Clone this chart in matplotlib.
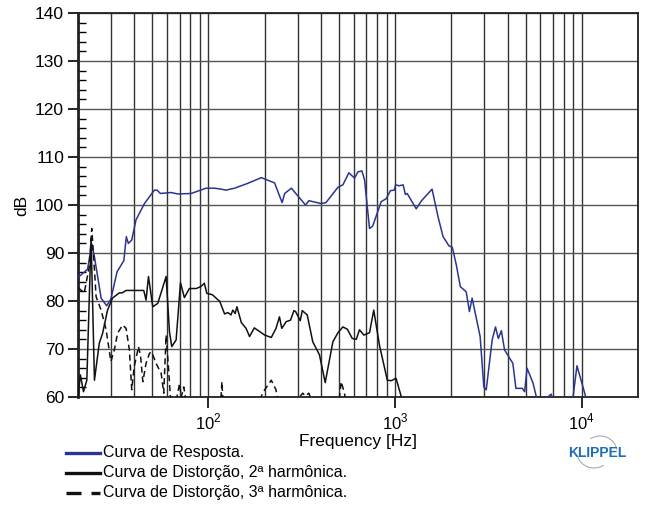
import numpy as np
import matplotlib
matplotlib.use('Agg')
import matplotlib.pyplot as plt
from matplotlib.lines import Line2D
from matplotlib.patches import Arc
from matplotlib.ticker import LogLocator, MultipleLocator, FixedLocator, NullFormatter

plt.rcParams['font.family'] = ['Liberation Sans', 'DejaVu Sans']
plt.rcParams['mathtext.fontset'] = 'custom'
plt.rcParams['mathtext.rm'] = 'Liberation Sans'

# response curve (blue)
resp_f = [20, 22.5, 23.7, 24.5, 26.6, 28.5, 30, 32.4, 35.2, 36.3, 37.2, 38.8, 40.9, 45.4,
          51.3, 53, 55.3, 63, 68.5, 80.8, 97, 108, 117, 124, 138, 162, 192, 226, 248, 256,
          278, 301, 331, 345, 401, 426, 494, 525, 565, 606, 632, 664, 686, 729, 758, 842,
          895, 944, 990, 1006, 1052, 1104, 1134, 1160, 1297, 1385, 1577, 1696, 1806, 1942,
          2024, 2127, 2234, 2403, 2500, 2585, 2853, 2986, 3076, 3310, 3448, 3570, 3707,
          3858, 4272, 4436, 4800, 4940, 5090, 5480, 5750, 6200, 6570, 6850, 7000, 8000,
          8940, 9420, 10400, 10700]
resp_db = [84.9, 86.6, 91.9, 89.2, 80.6, 79.0, 80.4, 86.1, 88.4, 93.4, 92.0, 92.7, 96.9, 100.3,
           103.1, 103.1, 102.4, 102.6, 102.3, 102.4, 103.5, 103.5, 103.3, 103.1, 103.5, 104.5,
           105.7, 104.6, 100.5, 102.4, 103.5, 101.9, 100.0, 100.9, 100.3, 100.5, 103.7, 104.2,
           106.7, 105.6, 106.9, 107.1, 105.2, 95.1, 95.6, 100.7, 101.3, 103.0, 103.1, 104.2,
           104.0, 104.2, 102.2, 102.4, 99.2, 100.9, 103.3, 97.6, 93.4, 91.5, 91.2, 87.5, 83.0,
           81.9, 77.8, 80.6, 72.6, 62.1, 61.5, 71.9, 74.6, 72.2, 73.8, 69.8, 67.0, 61.8, 61.8,
           61.1, 66.0, 62.9, 59.5, 57.0, 60.0, 60.6, 59.5, 56.0, 59.5, 66.5, 60.6, 58.5]

# 2nd harmonic distortion (solid black)
h2_f = [20, 20.6, 21.4, 22.3, 23.5, 24.5, 26, 27.1, 28.8, 30.6, 33.3, 34.5, 36.2, 40, 45,
        46.3, 47.7, 50.3, 53.5, 59.3, 61.8, 63.6, 67.1, 70.8, 74.3, 79, 86, 91, 95, 98, 105,
        115, 122, 127, 132, 135, 139, 142, 150, 159, 166, 176, 200, 217, 230, 240, 247, 261,
        275, 287, 293, 310, 318, 338, 362, 393, 422, 464, 494, 525, 555, 589, 619, 644, 680,
        729, 768, 824, 908, 954, 1011, 1078, 1110]
h2_db = [60.1, 64.6, 61.1, 63.5, 93.1, 63.5, 71.2, 73.3, 78.1, 80.6, 81.7, 81.7, 82.2, 82.2,
         82.2, 80.2, 85.1, 78.8, 79.5, 85.1, 73.6, 70.5, 71.9, 83.8, 80.7, 82.6, 82.6, 83.0,
         83.7, 81.6, 81.3, 79.9, 77.3, 77.6, 77.1, 78.1, 77.4, 78.8, 75.5, 74.3, 72.6, 74.4,
         72.9, 72.4, 74.3, 76.7, 74.3, 75.7, 76.0, 78.0, 77.8, 75.9, 78.0, 77.1, 71.5, 68.8,
         63.0, 71.5, 73.4, 74.6, 74.1, 72.2, 72.0, 74.0, 72.9, 73.4, 78.1, 70.8, 63.5, 63.4,
         63.9, 60.1, 58.0]

# 3rd harmonic distortion (dashed black)
h3_f = [20, 21.6, 23, 23.7, 24.5, 25, 26.6, 28.3, 30, 31.3, 32.6, 34.7, 36.2, 37.7, 38.8, 40,
        42.2, 43.3, 44.5, 46.3, 48.3, 49.6, 52.4, 55.8, 57.6, 59.3, 61.2, 63, 67, 70, 71.5,
        73.7, 76, 116, 118, 120, 185, 200, 217, 230, 236, 300, 320, 330, 345, 355, 500, 514,
        535, 545]
h3_db = [82.8, 81.7, 87.2, 95.1, 86.5, 80.9, 78.1, 74.0, 67.4, 69.8, 73.3, 75.0, 74.3, 69.8,
         61.5, 66.3, 70.5, 68.4, 63.2, 67.0, 69.1, 69.4, 67.0, 64.9, 60.8, 72.9, 65.6, 58.0,
         59.0, 62.8, 60.0, 62.1, 59.0, 58.0, 63.2, 58.0, 59.0, 61.5, 63.5, 61.5, 59.0, 59.5,
         60.8, 60.2, 60.8, 59.5, 59.0, 63.2, 60.8, 59.0]

legend_labels = ['Curva de Resposta.',
                 'Curva de Distorção, 2ª harmônica.',
                 'Curva de Distorção, 3ª harmônica.']

blue = '#2b3590'
W, H = 645, 505
fig = plt.figure(figsize=(W / 100, H / 100), dpi=100)
ax = fig.add_axes([78 / W, (H - 397) / H, (638 - 78) / W, (397 - 13) / H])

ax.plot(resp_f, resp_db, color=blue, lw=1.1, zorder=3)
ax.plot(h2_f, h2_db, color='#111111', lw=1.1, zorder=3)
ax.plot(h3_f, h3_db, color='#111111', lw=1.1, dashes=(4, 2.5), zorder=3)

ax.set_xscale('log')
ax.set_xlim(20, 20000)
ax.set_ylim(60, 140)

ax.xaxis.set_major_locator(FixedLocator([100, 1000, 10000]))
ax.set_xticklabels([r'$10^{2}$', r'$10^{3}$', r'$10^{4}$'])
ax.xaxis.set_minor_locator(LogLocator(base=10, subs=np.arange(2, 10)))
ax.xaxis.set_minor_formatter(NullFormatter())
ax.yaxis.set_major_locator(MultipleLocator(10))
ax.yaxis.set_minor_locator(MultipleLocator(2))

ax.grid(True, which='major', axis='y', color='#555555', lw=1.0)
ax.grid(True, which='both', axis='x', color='#333333', lw=1.0)
ax.set_axisbelow(True)

ax.tick_params(axis='x', which='major', direction='out', length=8, width=1.2,
               labelsize=12, pad=3)
ax.tick_params(axis='x', which='minor', length=0)
ax.tick_params(axis='y', which='major', direction='out', length=7, width=1.2,
               labelsize=12.5, pad=3)
ax.tick_params(axis='y', which='minor', direction='in', length=6, width=1.0)

for side, sp in ax.spines.items():
    sp.set_color('#222222')
    sp.set_linewidth(1.3)
ax.spines['left'].set_linewidth(2.0)

ax.set_xlabel('Frequency [Hz]', fontsize=12.5, labelpad=1)
ax.set_ylabel('dB', fontsize=12.5, labelpad=4)

# legend drawn below the axes
rows = [453, 473, 493]
styles = [dict(color=blue), dict(color='#111111'), dict(color='#111111', dashes=(4.5, 3))]
for y, lab, st in zip(rows, legend_labels, styles):
    fig.add_artist(Line2D([66 / W, 100 / W], [1 - y / H, 1 - y / H], lw=2.4,
                          transform=fig.transFigure, **st))
    fig.text(103 / W, 1 - y / H, lab, fontsize=11.5, va='center', ha='left')

# KLIPPEL logo
fig.text(597 / W, 1 - 453 / H, 'KLIPPEL', fontsize=10, fontweight='bold',
         color='#1f6db4', ha='center', va='center')
fig.add_artist(Arc((600 / W, 1 - 452 / H), 34 / W, 32 / H, theta1=10, theta2=120,
                   transform=fig.transFigure, color='#aaaaaa', lw=0.8))
fig.add_artist(Arc((594 / W, 1 - 452 / H), 34 / W, 32 / H, theta1=200, theta2=300,
                   transform=fig.transFigure, color='#aaaaaa', lw=0.8))

fig.savefig('out.png', dpi=100)
